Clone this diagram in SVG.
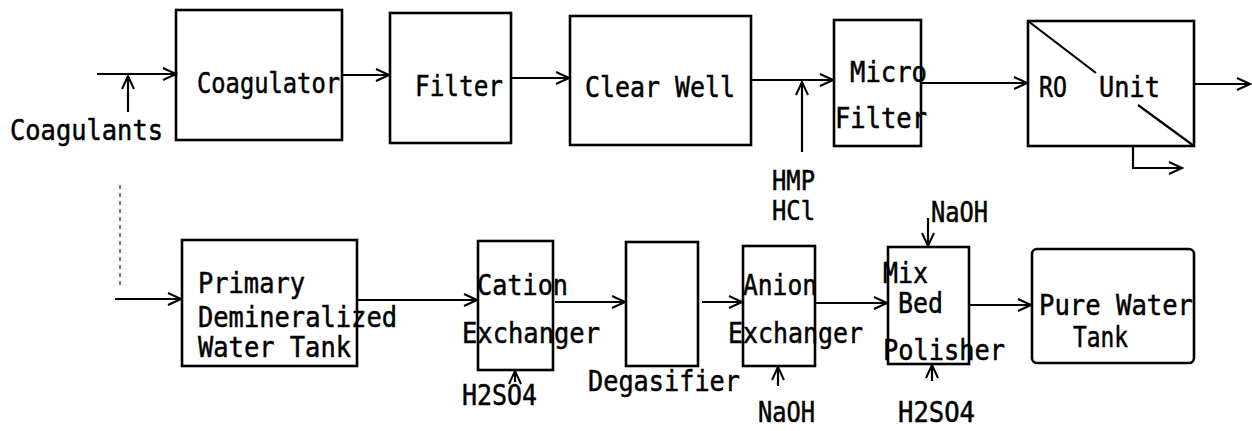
<svg xmlns="http://www.w3.org/2000/svg" width="1252" height="431" viewBox="0 0 1252 431">
<defs>
<marker id="arr" markerUnits="userSpaceOnUse" markerWidth="16" markerHeight="16" refX="14" refY="8" orient="auto">
<path d="M1,2 L14,8 L1,14" fill="none" stroke="#000" stroke-width="2"/>
</marker>
<style>
.box{fill:none;stroke:#000;stroke-width:2.6}
.ln{fill:none;stroke:#000;stroke-width:2.2}
.c{marker-end:url(#arr)}
text{font-family:"DejaVu Sans Mono","Liberation Mono",monospace;font-size:28px;fill:#000;stroke:#000;stroke-width:0.5}
.sm{font-size:26px}
</style>
</defs>
<rect width="1252" height="431" fill="#fff"/>

<g id="connectors">
<path class="ln c" d="M97,74 H176"/>
<path class="ln c" d="M128,112 V76"/>
<path class="ln c" d="M342,75 H389"/>
<path class="ln c" d="M511,78 H569"/>
<path class="ln c" d="M751,80 H833"/>
<path class="ln c" d="M802,152 V82"/>
<path class="ln c" d="M921,83 H1027"/>
<path class="ln c" d="M1194,84 H1250"/>
<path class="ln c" d="M1133,146 V168 H1182"/>
<path d="M120,185 V288" fill="none" stroke="#555" stroke-width="1.6" stroke-dasharray="4,4"/>
<path class="ln c" d="M115,299 H181"/>
<path class="ln c" d="M357,300 H477"/>
<path class="ln c" d="M515,382 V371"/>
<path class="ln c" d="M555,302 H625"/>
<path class="ln c" d="M702,302 H742"/>
<path class="ln c" d="M778,386 V367"/>
<path class="ln c" d="M815,303 H887"/>
<path class="ln c" d="M928,218 V246"/>
<path class="ln c" d="M932,381 V365"/>
<path class="ln c" d="M969,305 H1031"/>
</g>

<g id="coagulants">
<text x="10" y="140" textLength="153" lengthAdjust="spacingAndGlyphs">Coagulants</text>
</g>
<g id="coagulator">
<rect class="box" x="176" y="10" width="166" height="130"/>
<text x="197" y="93" textLength="143" lengthAdjust="spacingAndGlyphs">Coagulator</text>
</g>
<g id="filter">
<rect class="box" x="390" y="13" width="121" height="130"/>
<text x="415" y="96" textLength="88" lengthAdjust="spacingAndGlyphs">Filter</text>
</g>
<g id="clearwell">
<rect class="box" x="570" y="16" width="181" height="129"/>
<text x="585" y="97" textLength="150" lengthAdjust="spacingAndGlyphs">Clear Well</text>
</g>
<g id="hmp">
<text class="sm" x="772" y="190" textLength="43" lengthAdjust="spacingAndGlyphs">HMP</text>
<text class="sm" x="772" y="220" textLength="43" lengthAdjust="spacingAndGlyphs">HCl</text>
</g>
<g id="microfilter">
<rect class="box" x="834" y="20" width="87" height="126"/>
<text x="850" y="82" textLength="77" lengthAdjust="spacingAndGlyphs">Micro</text>
<text x="835" y="128" textLength="92" lengthAdjust="spacingAndGlyphs">Filter</text>
</g>
<g id="ro">
<rect class="box" x="1028" y="21" width="166" height="125"/>
<path class="ln" d="M1028,21 L1096,73 M1138,105 L1194,146"/>
<text x="1039" y="97" textLength="28" lengthAdjust="spacingAndGlyphs">RO</text>
<text x="1099" y="97" textLength="61" lengthAdjust="spacingAndGlyphs">Unit</text>
</g>

<g id="primary">
<rect class="box" x="182" y="240" width="175" height="126"/>
<text x="198" y="293" textLength="107" lengthAdjust="spacingAndGlyphs">Primary</text>
<text x="198" y="327" textLength="199" lengthAdjust="spacingAndGlyphs">Demineralized</text>
<text x="198" y="357" textLength="153" lengthAdjust="spacingAndGlyphs">Water Tank</text>
</g>
<g id="cation">
<rect class="box" x="478" y="241" width="75" height="129"/>
<text x="477" y="295" textLength="91" lengthAdjust="spacingAndGlyphs">Cation</text>
<text x="462" y="343" textLength="138" lengthAdjust="spacingAndGlyphs">Exchanger</text>
<text x="462" y="405" textLength="75" lengthAdjust="spacingAndGlyphs">H2SO4</text>
</g>
<g id="degasifier">
<rect class="box" x="626" y="242" width="72" height="124"/>
<text x="588" y="391" textLength="152" lengthAdjust="spacingAndGlyphs">Degasifier</text>
</g>
<g id="anion">
<rect class="box" x="743" y="246" width="72" height="120"/>
<text x="743" y="295" textLength="74" lengthAdjust="spacingAndGlyphs">Anion</text>
<text x="728" y="343" textLength="135" lengthAdjust="spacingAndGlyphs">Exchanger</text>
<text x="758" y="422" textLength="57" lengthAdjust="spacingAndGlyphs">NaOH</text>
</g>
<g id="mixbed">
<rect class="box" x="888" y="247" width="81" height="117"/>
<text x="931" y="222" textLength="57" lengthAdjust="spacingAndGlyphs">NaOH</text>
<text x="883" y="283" textLength="45" lengthAdjust="spacingAndGlyphs">Mix</text>
<text x="898" y="313" textLength="45" lengthAdjust="spacingAndGlyphs">Bed</text>
<text x="883" y="360" textLength="122" lengthAdjust="spacingAndGlyphs">Polisher</text>
<text x="898" y="422" textLength="77" lengthAdjust="spacingAndGlyphs">H2SO4</text>
</g>
<g id="purewater">
<rect class="box" x="1032" y="249" width="162" height="114" rx="5"/>
<text x="1039" y="315" textLength="154" lengthAdjust="spacingAndGlyphs">Pure Water</text>
<text x="1073" y="347" textLength="55" lengthAdjust="spacingAndGlyphs">Tank</text>
</g>
</svg>
